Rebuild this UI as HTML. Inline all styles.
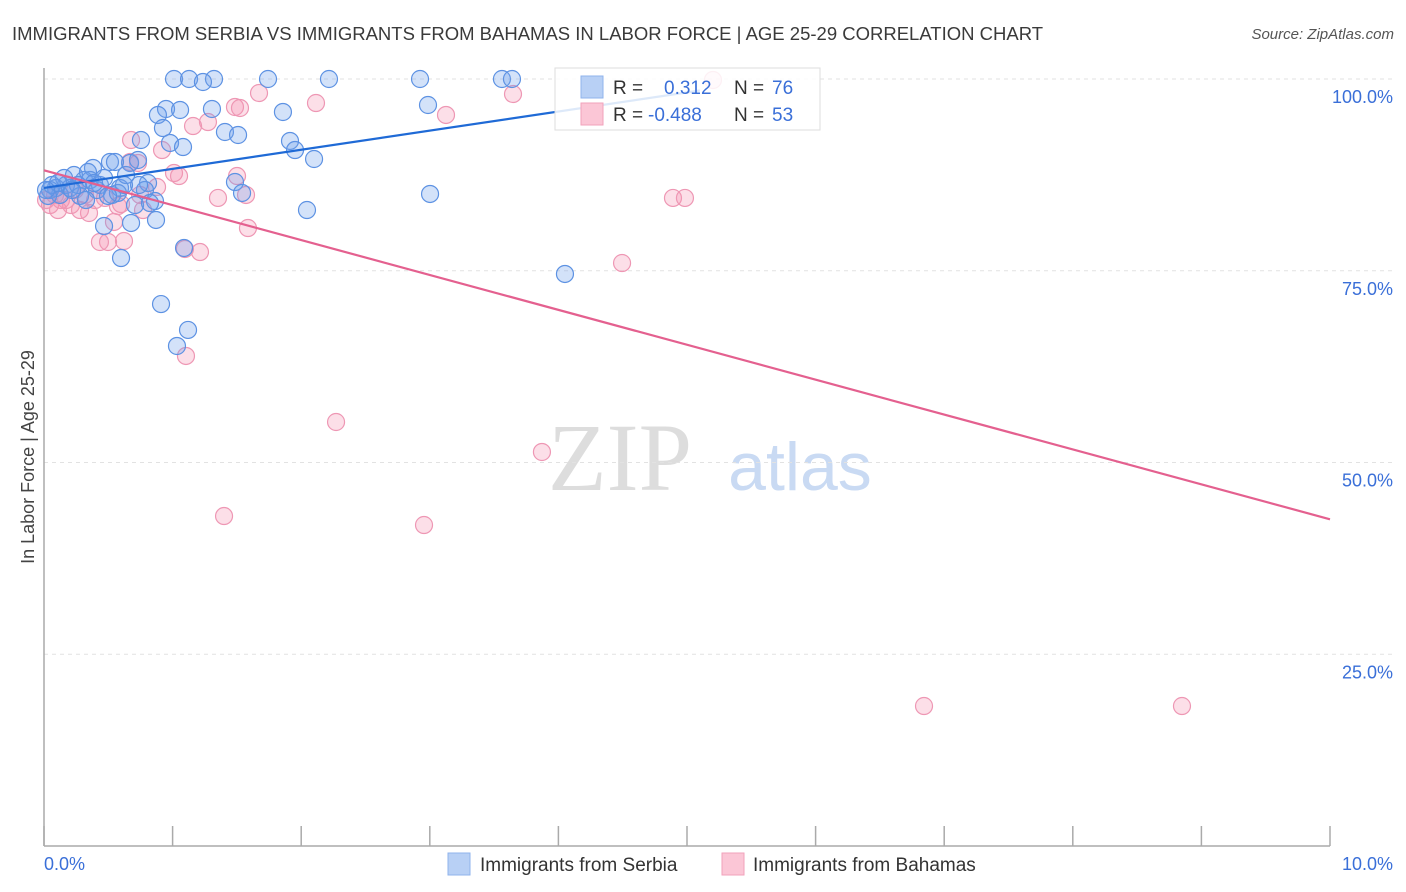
<!DOCTYPE html>
<html><head><meta charset="utf-8"><style>
body{margin:0;background:#fff;font-family:"Liberation Sans",sans-serif}
svg{display:block}
</style></head><body>
<svg id="chart" width="1406" height="892">
<text x="12" y="40" font-size="18.5" fill="#3a3a3a">IMMIGRANTS FROM SERBIA VS IMMIGRANTS FROM BAHAMAS IN LABOR FORCE | AGE 25-29 CORRELATION CHART</text>
<text x="1394" y="39" font-size="15" font-style="italic" fill="#555" text-anchor="end">Source: ZipAtlas.com</text>
<text x="0" y="0" transform="translate(34,457) rotate(-90)" font-size="18" fill="#444" text-anchor="middle">In Labor Force | Age 25-29</text>
<text x="620" y="490" font-family="Liberation Serif,serif" font-size="96" fill="#ddd" text-anchor="middle">ZIP</text>
<text x="800" y="490" font-size="68" fill="#c9daf3" text-anchor="middle">atlas</text>
<g id="grid"></g><g id="axes"></g><g id="pts"></g><g id="trend"></g>
<g>
<rect x="555" y="68" width="265" height="62" fill="rgba(255,255,255,0.85)" stroke="#ddd"/>
<rect x="581" y="76" width="22" height="22" fill="#b8d0f5" stroke="#8fb3ec"/>
<rect x="581" y="103" width="22" height="22" fill="#fbc6d6" stroke="#f1a2bb"/>
<text y="94" font-size="19" fill="#333"><tspan x="613">R = </tspan><tspan x="664" fill="#3a6fd8">0.312</tspan><tspan x="734">N = </tspan><tspan x="772" fill="#3a6fd8">76</tspan></text>
<text y="121" font-size="19" fill="#333"><tspan x="613">R = </tspan><tspan x="648" fill="#3a6fd8">-0.488</tspan><tspan x="734">N = </tspan><tspan x="772" fill="#3a6fd8">53</tspan></text>
</g>
<rect x="448" y="853" width="22" height="22" fill="#b8d0f5" stroke="#8fb3ec"/>
<text x="480" y="871" font-size="19" fill="#333">Immigrants from Serbia</text>
<rect x="722" y="853" width="22" height="22" fill="#fbc6d6" stroke="#f1a2bb"/>
<text x="753" y="871" font-size="19" fill="#333">Immigrants from Bahamas</text>
</svg>
<script>
const yTicks=[25,50,75,100];
const yTickLabels=["25.0%","50.0%","75.0%","100.0%"];
const xTickCount=[0,1,2,3,4,5,6,7,8,9,10];
const serbiaPx=[[174,79],[189,79],[214,79],[268,79],[329,79],[420,79],[502,79],[512,79],[203,82],[166,109],[212,109],[283,112],[428,105],[158,115],[180,110],[163,128],[225,132],[238,135],[170,143],[183,147],[141,140],[290,141],[295,150],[314,159],[110,162],[130,163],[115,162],[138,160],[148,183],[235,182],[242,193],[430,194],[307,210],[155,201],[156,220],[131,223],[104,226],[121,258],[161,304],[188,330],[177,346],[565,274],[184,248],[84,180],[74,175],[93,168],[66,185],[56,188],[50,190],[60,195],[70,188],[80,196],[90,180],[100,185],[112,195],[120,188],[126,175],[97,190],[135,205],[145,190],[150,203],[88,172],[104,178],[78,185],[64,178],[48,196],[118,193],[52,185],[86,200],[139,185],[108,196],[72,190],[94,183],[124,185],[58,183],[46,190]];
const bahamasPx=[[713,80],[259,93],[316,103],[513,94],[235,107],[240,108],[208,122],[193,126],[446,115],[131,140],[162,150],[174,173],[179,176],[157,187],[130,162],[138,163],[246,195],[218,198],[673,198],[685,198],[237,176],[248,228],[200,252],[185,249],[124,241],[108,242],[100,242],[114,222],[89,213],[71,205],[61,200],[50,205],[80,210],[95,200],[121,204],[143,210],[186,356],[622,263],[336,422],[542,452],[224,516],[424,525],[924,706],[1182,706],[55,195],[66,200],[85,195],[75,190],[105,198],[118,206],[46,200],[58,210],[140,195]];
// convert reading to data values (x in %, y in %)
const serbiaX=serbiaPx.map(p=>+((p[0]-44)/128.6).toFixed(3));
const serbiaY=serbiaPx.map(p=>+((846-p[1])/7.67).toFixed(2));
const bahamasX=bahamasPx.map(p=>+((p[0]-44)/128.6).toFixed(3));
const bahamasY=bahamasPx.map(p=>+((846-p[1])/7.67).toFixed(2));
const serbiaTrend=[[0,85.8],[5.1,98.5]];
const bahamasTrend=[[0,88.1],[10,42.6]];

const X0=44,X1=1330,Y0=846,Y100=79;
const xs=v=>X0+(X1-X0)*v/10;
const ys=v=>Y0-(Y0-Y100)*v/100;
const NS="http://www.w3.org/2000/svg";
function mk(tag,attrs,parent){const e=document.createElementNS(NS,tag);for(const k in attrs)e.setAttribute(k,attrs[k]);document.getElementById(parent).appendChild(e);return e;}
yTicks.forEach((t,i)=>{
 const l=mk('line',{x1:X0,x2:1393,y1:ys(t),y2:ys(t),stroke:'#e2e2e2','stroke-dasharray':'4,4'},'grid');
 
 
 const tx=mk('text',{x:1393,y:ys(t)+24,'text-anchor':'end','font-size':'18',fill:'#3a6fd8'},'grid');
 tx.textContent=yTickLabels[i];
 
 
});
const ax=mk('line',{x1:X0,x2:X0,y1:68,y2:Y0,stroke:'#aaa','stroke-width':1.5},'axes');


const bx=mk('line',{x1:X0,x2:X1,y1:Y0,y2:Y0,stroke:'#aaa','stroke-width':1.5},'axes');


xTickCount.forEach(t=>{
 const l=mk('line',{x1:xs(t),x2:xs(t),y1:826,y2:Y0,stroke:'#aaa','stroke-width':1.5},'axes');
 
 
});
const xl0=mk('text',{x:44,y:870,'font-size':'18',fill:'#3a6fd8'},'axes');xl0.textContent='0.0%';


const xl1=mk('text',{x:1393,y:870,'font-size':'18',fill:'#3a6fd8','text-anchor':'end'},'axes');xl1.textContent='10.0%';


function drawPts(X,Y,fill,stroke,name){X.forEach((x,i)=>{
 const c=mk('circle',{cx:xs(x),cy:ys(Y[i]),r:8.5,fill:fill,stroke:stroke,'stroke-width':1.2},'pts');
 
 
});}
drawPts(bahamasX,bahamasY,'rgba(244,150,180,0.3)','#ee97b4','bahamas-point');
drawPts(serbiaX,serbiaY,'rgba(110,160,235,0.3)','#5d92e3','serbia-point');
const tl1=mk('line',{x1:xs(serbiaTrend[0][0]),y1:ys(serbiaTrend[0][1]),x2:xs(serbiaTrend[1][0]),y2:ys(serbiaTrend[1][1]),stroke:'#1f6ad6','stroke-width':2.2},'trend');


const tl2=mk('line',{x1:xs(bahamasTrend[0][0]),y1:ys(bahamasTrend[0][1]),x2:xs(bahamasTrend[1][0]),y2:ys(bahamasTrend[1][1]),stroke:'#e4608f','stroke-width':2.2},'trend');


</script>
</body></html>
